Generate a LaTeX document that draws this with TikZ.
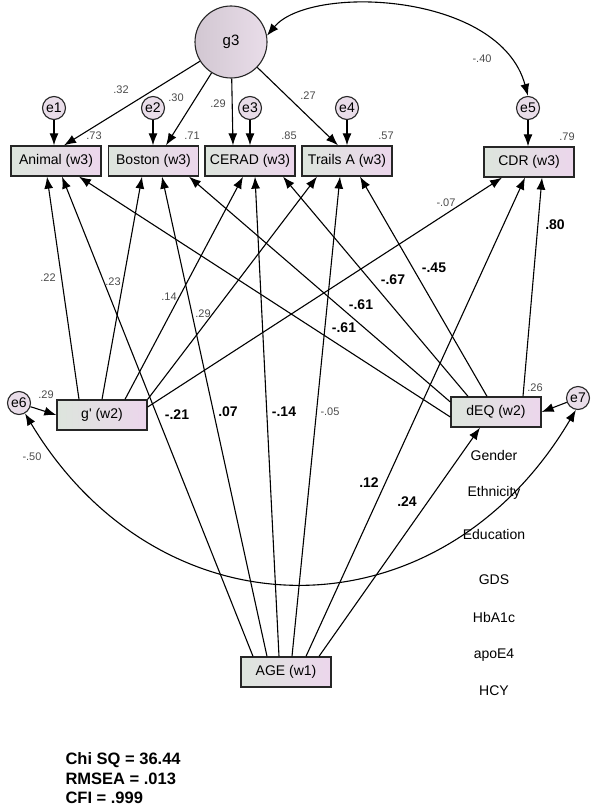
\documentclass[tikz,border=0pt]{standalone}
\usepackage{fontspec}
\setmainfont{Liberation Sans}
\usetikzlibrary{arrows.meta}
\definecolor{boxl}{RGB}{221,229,221}
\definecolor{boxr}{RGB}{236,214,236}
\definecolor{errfill}{RGB}{233,221,233}
\definecolor{numgray}{RGB}{75,75,75}

\begin{document}
\begin{tikzpicture}[x=1pt,y=-1pt,
  every node/.style={font=\fontsize{14}{16}\selectfont},
  obs/.style={draw=black!85,line width=1.3pt,left color=boxl,right color=boxr,minimum width=90pt,minimum height=30pt,inner sep=0pt},
  err/.style={draw=black!85,circle,line width=1.1pt,fill=errfill,minimum size=23pt,inner sep=0pt,font=\fontsize{14}{15}\selectfont},
  lat/.style={draw=black!85,circle,line width=1.1pt,left color=black!10!errfill,right color=errfill,minimum size=72pt,inner sep=0pt,font=\fontsize{15}{16}\selectfont},
  path/.style={line width=1.1pt,-{Latex[length=12pt,width=9pt]}},
  cov/.style={line width=1.1pt,{Latex[length=12pt,width=9pt]}-{Latex[length=12pt,width=9pt]}},
  coef/.style={text=numgray,font=\fontsize{11}{12}\selectfont},
  bcoef/.style={font=\bfseries\fontsize{14}{16}\selectfont},
  fit/.style={anchor=base west,font=\bfseries\fontsize{16.5}{19}\selectfont}]
\useasboundingbox (0,0) rectangle (592,808);

\node[lat] (g3) at (231,42) {g3};
\node[obs] (animal) at (56,161) {Animal (w3)};
\node[obs] (boston) at (153.5,161) {Boston (w3)};
\node[obs] (cerad) at (250,161) {CERAD (w3)};
\node[obs] (trails) at (347,161) {Trails A (w3)};
\node[obs] (cdr) at (529,162) {CDR (w3)};
\node[obs] (gp) at (102,415) {g\textquotesingle{} (w2)};
\node[obs] (deq) at (496,412) {dEQ (w2)};
\node[obs] (age) at (286,672) {AGE (w1)};
\node[err] (e1) at (54,108) {e1};
\node[err] (e2) at (153,108) {e2};
\node[err] (e3) at (250,108) {e3};
\node[err] (e4) at (347,108) {e4};
\node[err] (e5) at (528,108) {e5};
\node[err] (e6) at (19,403) {e6};
\node[err] (e7) at (578,398) {e7};

\foreach \t/\y [count=\i] in {Gender/455,Ethnicity/493,Education/534,GDS/580,HbA1c/617,apoE4/655,HCY/691}
  \node (cv\i) at (494,\y) {\t};

\draw[path] (g3) -- ([xshift=8pt]animal.north);
\draw[path] (g3) -- ([xshift=12.5pt]boston.north);
\draw[path] (g3) -- ([xshift=-17pt]cerad.north);
\draw[path] (g3) -- ([xshift=-9pt]trails.north);
\foreach \e/\v in {e1/animal,e2/boston,e3/cerad,e4/trails,e5/cdr}
  \draw[path] (\e) -- (\e |- \v.north);
\draw[path] (e6) -- (gp.west);
\draw[path] (e7) -- (deq.east);

\draw[path] ([xshift=-23pt]gp.north) -- ([xshift=-9pt]animal.south);
\draw[path] (gp.north) -- ([xshift=-11.5pt]boston.south);
\draw[path] ([xshift=23pt]gp.north) -- ([xshift=-7pt]cerad.south);
\draw[path] (gp.north east) -- ([xshift=-30pt]trails.south);
\draw[path] ([yshift=8pt]gp.east) -- ([xshift=-27pt]cdr.south);

\draw[path] ([yshift=-5pt]deq.west) -- ([xshift=23pt]animal.south);
\draw[path] ([yshift=10pt]deq.west) -- ([xshift=35.5pt]boston.south);
\draw[path] ([xshift=-28pt]deq.north) -- ([xshift=33pt]cerad.south);
\draw[path] ([xshift=-9pt]deq.north) -- ([xshift=13pt]trails.south);
\draw[path] ([xshift=27pt]deq.north) -- ([xshift=13pt]cdr.south);

\draw[path] ([xshift=-33pt]age.north) -- ([xshift=6pt]animal.south);
\draw[path] ([xshift=-19pt]age.north) -- ([xshift=8.5pt]boston.south);
\draw[path] ([xshift=-7pt]age.north) -- ([xshift=5pt]cerad.south);
\draw[path] ([xshift=6pt]age.north) -- ([xshift=-7pt]trails.south);
\draw[path] ([xshift=20pt]age.north) -- ([xshift=-4pt]cdr.south);
\draw[path] ([xshift=33pt]age.north) -- ([xshift=-16pt]deq.south);

\draw[cov] (g3.10) .. controls (310,-16) and (500,-8) .. (e5.north);
\draw[cov] (e6.-60) .. controls (161,640) and (440,640) .. (e7.-100);

\foreach \t/\p [count=\i] in {.73/{94,136},.71/{192,136},.85/{289,136},.57/{386,136},.79/{567,137},
  .32/{121,90},.30/{176,98},.29/{218,104},.27/{308,96},-.40/{482,59},
  .22/{48,278},.23/{113,282},.14/{169,297},.29/{203,314},-.07/{446,203},
  -.05/{330,412},.26/{535,388},.29/{46,395},-.50/{32,457}}
  \node[coef] (c\i) at (\p) {\t};
\foreach \t/\p [count=\i] in {-.21/{177,415},.07/{228,412},-.14/{284,412},-.45/{434,268},
  -.67/{393,280},-.61/{361,305},-.61/{344,328},.80/{555,225},.12/{369,483},.24/{407,502}}
  \node[bcoef] (b\i) at (\p) {\t};

\node[fit] (chi) at (62,764) {Chi SQ = 36.44};
\node[fit] (rmsea) at (62,784) {RMSEA = .013};
\node[fit] (cfi) at (62,803) {CFI = .999};
\end{tikzpicture}
\end{document}
